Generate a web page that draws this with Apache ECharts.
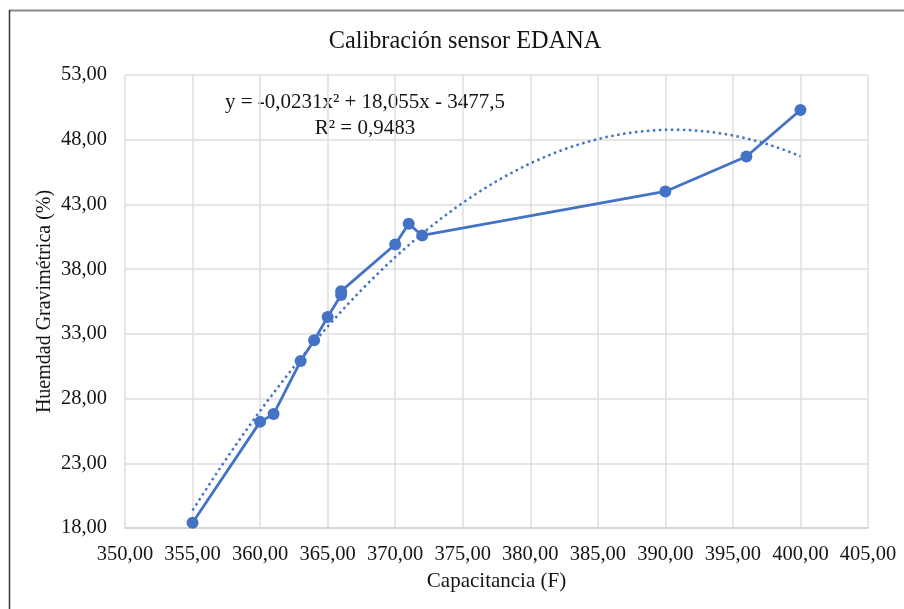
<!DOCTYPE html>
<html>
<head>
<meta charset="utf-8">
<script src="https://cdn.jsdelivr.net/npm/echarts@6/dist/echarts.min.js"></script>
<style>
html,body{margin:0;padding:0;background:#fff;}
#chart{width:904px;height:609px;}
</style>
</head>
<body>
<div id="chart"></div>
<script>
const chartTitle = 'Calibración sensor EDANA';
const xAxisName = 'Capacitancia (F)';
const yAxisName = 'Huemdad Gravimétrica (%)';
const capacitance = [355, 360, 361, 363, 364, 365, 366, 366, 370, 371, 372, 390, 396, 400];
const moisture = [18.4, 26.2, 26.8, 30.9, 32.5, 34.3, 36.0, 36.3, 39.9, 41.5, 40.6, 44.0, 46.7, 50.3];
const equationLines = ['y = -0,0231x² + 18,055x - 3477,5', 'R² = 0,9483'];

// Quadratic least-squares trendline computed from the data (as the spreadsheet does)
function quadFit(xs, ys) {
  const n = xs.length;
  const mx = xs.reduce((a, b) => a + b, 0) / n;
  let S = [0, 0, 0, 0, 0], T = [0, 0, 0];
  for (let i = 0; i < n; i++) {
    const u = xs[i] - mx;
    for (let k = 0; k <= 4; k++) S[k] += Math.pow(u, k);
    for (let k = 0; k <= 2; k++) T[k] += ys[i] * Math.pow(u, k);
  }
  const M = [[S[0], S[1], S[2], T[0]], [S[1], S[2], S[3], T[1]], [S[2], S[3], S[4], T[2]]];
  for (let c = 0; c < 3; c++) {
    for (let r = c + 1; r < 3; r++) {
      const f = M[r][c] / M[c][c];
      for (let k = c; k < 4; k++) M[r][k] -= f * M[c][k];
    }
  }
  const coef = [0, 0, 0];
  for (let r = 2; r >= 0; r--) {
    let s = M[r][3];
    for (let k = r + 1; k < 3; k++) s -= M[r][k] * coef[k];
    coef[r] = s / M[r][r];
  }
  return x => { const u = x - mx; return coef[0] + coef[1] * u + coef[2] * u * u; };
}
const fit = quadFit(capacitance, moisture);
const xMinData = Math.min(...capacitance), xMaxData = Math.max(...capacitance);
const trend = [];
for (let i = 0; i <= 90; i++) {
  const x = xMinData + (xMaxData - xMinData) * i / 90;
  trend.push([x, fit(x)]);
}

const fmt = v => v.toFixed(2).replace('.', ',');
const font = '"Liberation Serif", "Times New Roman", serif';
const blue = '#4472C4';
const ink = '#141414';

const chart = echarts.init(document.getElementById('chart'));
chart.setOption({
  animation: false,
  backgroundColor: '#fff',
  title: {
    text: chartTitle,
    left: 460, top: 25, textAlign: 'center',
    textStyle: {fontFamily: font, fontSize: 24.3, fontWeight: 'normal', color: ink}
  },
  grid: {left: 125, right: 36, top: 75, bottom: 81},
  xAxis: {
    type: 'value', min: 350, max: 405, interval: 5,
    name: xAxisName, nameLocation: 'middle', nameGap: 43, nameMoveOverlap: false,
    nameTextStyle: {fontFamily: font, fontSize: 21, color: ink},
    axisLine: {show: true, lineStyle: {color: '#d0d0d0', width: 1.5}},
    axisTick: {show: false},
    axisLabel: {formatter: fmt, fontFamily: font, fontSize: 20.5, color: ink, margin: 16},
    splitLine: {show: true, lineStyle: {color: '#dedede', width: 1.5}}
  },
  yAxis: {
    type: 'value', min: 18, max: 53, interval: 5,
    name: yAxisName, nameLocation: 'middle', nameGap: 70, nameMoveOverlap: false,
    nameTextStyle: {fontFamily: font, fontSize: 20, color: ink},
    axisLine: {show: false},
    axisTick: {show: false},
    axisLabel: {formatter: fmt, fontFamily: font, fontSize: 20.5, color: ink, margin: 18},
    splitLine: {show: true, lineStyle: {color: '#dedede', width: 1.5}}
  },
  graphic: [
    {type: 'line', shape: {x1: 9, y1: 10.5, x2: 904, y2: 10.5}, style: {stroke: '#8a8a8a', lineWidth: 2}},
    {type: 'line', shape: {x1: 9.5, y1: 10, x2: 9.5, y2: 609}, style: {stroke: '#333', lineWidth: 1.5}},
    {type: 'text', x: 365, y: 102, style: {
      text: equationLines[0], align: 'center', verticalAlign: 'middle',
      textAlign: 'center', textVerticalAlign: 'middle',
      font: '21px ' + font, fill: ink
    }},
    {type: 'text', x: 365, y: 128, style: {
      text: equationLines[1], align: 'center', verticalAlign: 'middle',
      textAlign: 'center', textVerticalAlign: 'middle',
      font: '21px ' + font, fill: ink
    }}
  ],
  series: [
    {
      type: 'line', data: trend, showSymbol: false, symbol: 'none', smooth: false,
      lineStyle: {color: blue, width: 2.5, type: [2.5, 3.5]}, z: 2, silent: true
    },
    {
      type: 'line', data: capacitance.map((x, i) => [x, moisture[i]]),
      symbol: 'circle', symbolSize: 12,
      itemStyle: {color: blue}, lineStyle: {color: blue, width: 2.8}, z: 3
    }
  ]
});
</script>
</body>
</html>
